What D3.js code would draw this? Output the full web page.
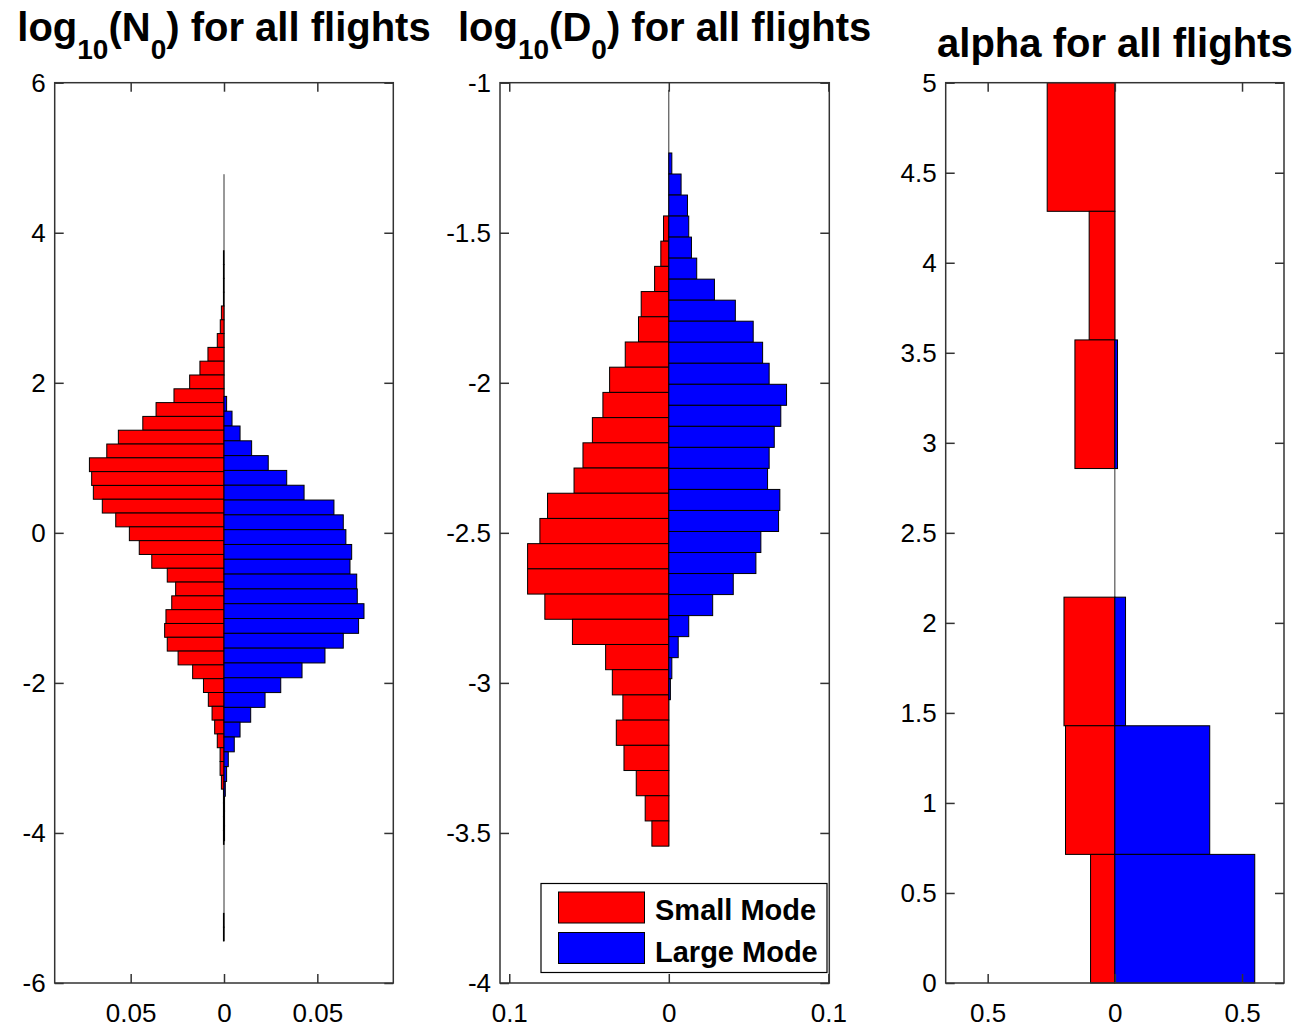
<!DOCTYPE html>
<html>
<head>
<meta charset="utf-8">
<script src="https://cdn.jsdelivr.net/npm/d3@7"></script>
<style>
body { margin: 0; background: #fff; }
svg { font-family: "Liberation Sans", Arial, Helvetica, sans-serif; }
</style>
</head>
<body>
<div id="fig"></div>
<script>
// histogram values, each list starts at its top bin edge and goes downwards
var n0_small_top = 3.76, n0_small_bin = 0.184;
var n0_small = [
    0.0003, 0.0003, 0.0003, 0.0003, 0.0014, 0.0020, 0.0036, 0.0086, 0.0129, 0.0184,
    0.0268, 0.0364, 0.0435, 0.0566, 0.0628, 0.0721, 0.0709, 0.0700, 0.0652, 0.0580,
    0.0507, 0.0454, 0.0387, 0.0304, 0.0259, 0.0280, 0.0311, 0.0318, 0.0304, 0.0246,
    0.0168, 0.0110, 0.0084, 0.0064, 0.0050, 0.0036, 0.0021, 0.0021, 0.0014, 0.0003,
    0.0003, 0.0003, 0.0003, 0, 0, 0, 0, 0, 0.0003, 0.0003
];
var n0_large_top = 4.78, n0_large_bin = 0.1974;
var n0_large = [
    0, 0, 0, 0, 0, 0, 0, 0, 0, 0,
    0, 0, 0, 0, 0, 0.0014, 0.0043, 0.0086, 0.0148, 0.0237,
    0.0336, 0.0429, 0.0589, 0.0639, 0.0653, 0.0684, 0.0675, 0.0711, 0.0714, 0.0750,
    0.0721, 0.0639, 0.0541, 0.0418, 0.0304, 0.0220, 0.0143, 0.0086, 0.0055, 0.0023,
    0.0014, 0.0007, 0.0003, 0.0003, 0.0003, 0, 0, 0, 0, 0
];

var d0_small_top = -1.444, d0_small_bin = 0.084;
var d0_small = [
    0.0033, 0.0050, 0.0089, 0.0173, 0.0190, 0.0273, 0.0371, 0.0413, 0.0479, 0.0538,
    0.0594, 0.0760, 0.0808, 0.0885, 0.0885, 0.0777, 0.0604, 0.0396, 0.0354, 0.0288,
    0.0329, 0.0281, 0.0204, 0.0148, 0.0106
];
var d0_large_top = -1.024, d0_large_bin = 0.07007;
var d0_large = [
    0, 0, 0, 0.0019, 0.0077, 0.0117, 0.0125, 0.0142, 0.0175, 0.0286,
    0.0417, 0.0529, 0.0588, 0.0629, 0.0738, 0.0702, 0.0661, 0.0629, 0.0619, 0.0696,
    0.0688, 0.0577, 0.0546, 0.0404, 0.0275, 0.0125, 0.0059, 0.0019, 0.0010
];

var alpha_top = 5, alpha_bin = 5 / 7;
var alpha_small = [0.266, 0.101, 0.157, 0, 0.200, 0.194, 0.0955];
var alpha_large = [0, 0, 0.0105, 0, 0.042, 0.373, 0.550];

// ticks
var n0_xticks = [-0.05, 0, 0.05];
var n0_yticks = [-6, -4, -2, 0, 2, 4, 6];
var d0_xticks = [-0.1, 0, 0.1];
var d0_yticks = [-4, -3.5, -3, -2.5, -2, -1.5, -1];
var alpha_xticks = [-0.5, 0, 0.5];
var alpha_yticks = [0, 0.5, 1, 1.5, 2, 2.5, 3, 3.5, 4, 4.5, 5];

var legend_labels = ['Small Mode', 'Large Mode'];

var fig = {
    width: 1297,
    height: 1027,
    top: 82.7,
    bottom: 983,
    tick_len: 9,
    small_color: '#ff0000',
    large_color: '#0000ff',
    svg: null,

    init: function() {
        this.svg = d3.select('#fig')
            .append('svg')
            .attr('width', this.width)
            .attr('height', this.height);
    },

    bins: function(values, top, bin) {
        return values.map(function(v, i) {
            return {v: v, hi: top - i * bin, lo: top - (i + 1) * bin};
        });
    },

    draw_panel: function(p) {
        var self = this;
        var x = d3.scaleLinear().domain(p.xlim).range([p.left, p.right]);
        var y = d3.scaleLinear().domain(p.ylim).range([this.bottom, this.top]);
        var g = this.svg.append('g');

        var small = this.bins(p.small, p.small_top, p.small_bin);
        var large = this.bins(p.large, p.large_top, p.large_bin);
        var all = small.concat(large);

        // baseline spans every bin, even the empty ones
        g.append('line')
            .attr('x1', x(0)).attr('x2', x(0))
            .attr('y1', y(d3.max(all, d => d.hi)))
            .attr('y2', y(d3.min(all, d => d.lo)))
            .attr('stroke', '#333')
            .attr('stroke-width', 1);

        g.append('g').selectAll('rect')
            .data(small.filter(d => d.v > 0))
            .enter()
            .append('rect')
            .attr('x', d => x(-d.v))
            .attr('y', d => y(d.hi))
            .attr('width', d => x(0) - x(-d.v))
            .attr('height', d => y(d.lo) - y(d.hi))
            .attr('fill', this.small_color)
            .attr('stroke', '#000')
            .attr('stroke-width', 1);

        g.append('g').selectAll('rect')
            .data(large.filter(d => d.v > 0))
            .enter()
            .append('rect')
            .attr('x', x(0))
            .attr('y', d => y(d.hi))
            .attr('width', d => x(d.v) - x(0))
            .attr('height', d => y(d.lo) - y(d.hi))
            .attr('fill', this.large_color)
            .attr('stroke', '#000')
            .attr('stroke-width', 1);

        // axes with inward ticks on all sides
        var fmt_x = d => Math.abs(d) + '';
        var fmt_y = d => d + '';
        var axes = [
            [d3.axisBottom(x).tickValues(p.xticks).tickFormat(fmt_x).tickPadding(21), 'translate(0,' + this.bottom + ')'],
            [d3.axisTop(x).tickValues(p.xticks).tickFormat(''), 'translate(0,' + this.top + ')'],
            [d3.axisLeft(y).tickValues(p.yticks).tickFormat(fmt_y).tickPadding(9), 'translate(' + p.left + ',0)'],
            [d3.axisRight(y).tickValues(p.yticks).tickFormat(''), 'translate(' + p.right + ',0)']
        ];
        axes.forEach(function(a) {
            var ax = g.append('g')
                .attr('transform', a[1])
                .call(a[0].tickSizeInner(-self.tick_len).tickSizeOuter(0));
            ax.attr('font-size', 26).attr('font-family', null);
            ax.select('.domain').remove();
            ax.selectAll('.tick line').attr('stroke', '#333').attr('stroke-width', 1.5);
            ax.selectAll('.tick text').attr('fill', '#000');
        });

        g.append('rect')
            .attr('x', p.left)
            .attr('y', this.top)
            .attr('width', p.right - p.left)
            .attr('height', this.bottom - this.top)
            .attr('fill', 'none')
            .attr('stroke', '#333')
            .attr('stroke-width', 1.5);

        // title, subscripts drawn as smaller tspans
        var t = g.append('text')
            .attr('x', (p.left + p.right) / 2)
            .attr('y', p.title_y)
            .attr('text-anchor', 'middle')
            .attr('font-size', 40)
            .attr('font-weight', 'bold');
        var down = false;
        p.title.forEach(function(part) {
            var s = t.append('tspan').text(part[0]);
            if (part[1]) {
                s.attr('font-size', 28).attr('dy', 18);
                down = true;
            } else if (down) {
                s.attr('dy', -18);
                down = false;
            }
        });

        return {x: x, y: y, g: g};
    },

    draw_legend: function(g) {
        var box = g.append('g');
        box.append('rect')
            .attr('x', 541).attr('y', 883.5)
            .attr('width', 286).attr('height', 89)
            .attr('fill', '#fff')
            .attr('stroke', '#000')
            .attr('stroke-width', 1.2);
        var colors = [this.small_color, this.large_color];
        legend_labels.forEach(function(label, i) {
            box.append('rect')
                .attr('x', 558.5).attr('y', 892 + i * 40.5)
                .attr('width', 86).attr('height', 31)
                .attr('fill', colors[i])
                .attr('stroke', '#000')
                .attr('stroke-width', 1);
            box.append('text')
                .attr('x', 655).attr('y', 920 + i * 41.5)
                .attr('font-size', 29)
                .attr('font-weight', 'bold')
                .text(label);
        });
    }
};

fig.init();

fig.draw_panel({
    left: 54.7, right: 393.3,
    xlim: [-0.0907, 0.0907], ylim: [-6, 6],
    xticks: n0_xticks, yticks: n0_yticks,
    small: n0_small, small_top: n0_small_top, small_bin: n0_small_bin,
    large: n0_large, large_top: n0_large_top, large_bin: n0_large_bin,
    title: [['log', false], ['10', true], ['(N', false], ['0', true], [') for all flights', false]],
    title_y: 41
});

var p2 = fig.draw_panel({
    left: 500, right: 829.3,
    xlim: [-0.1058, 0.1006], ylim: [-4, -1],
    xticks: d0_xticks, yticks: d0_yticks,
    small: d0_small, small_top: d0_small_top, small_bin: d0_small_bin,
    large: d0_large, large_top: d0_large_top, large_bin: d0_large_bin,
    title: [['log', false], ['10', true], ['(D', false], ['0', true], [') for all flights', false]],
    title_y: 41
});
fig.draw_legend(p2.g);

fig.draw_panel({
    left: 945.7, right: 1284,
    xlim: [-0.665, 0.665], ylim: [0, 5],
    xticks: alpha_xticks, yticks: alpha_yticks,
    small: alpha_small, small_top: alpha_top, small_bin: alpha_bin,
    large: alpha_large, large_top: alpha_top, large_bin: alpha_bin,
    title: [['alpha for all flights', false]],
    title_y: 57
});
</script>
</body>
</html>
